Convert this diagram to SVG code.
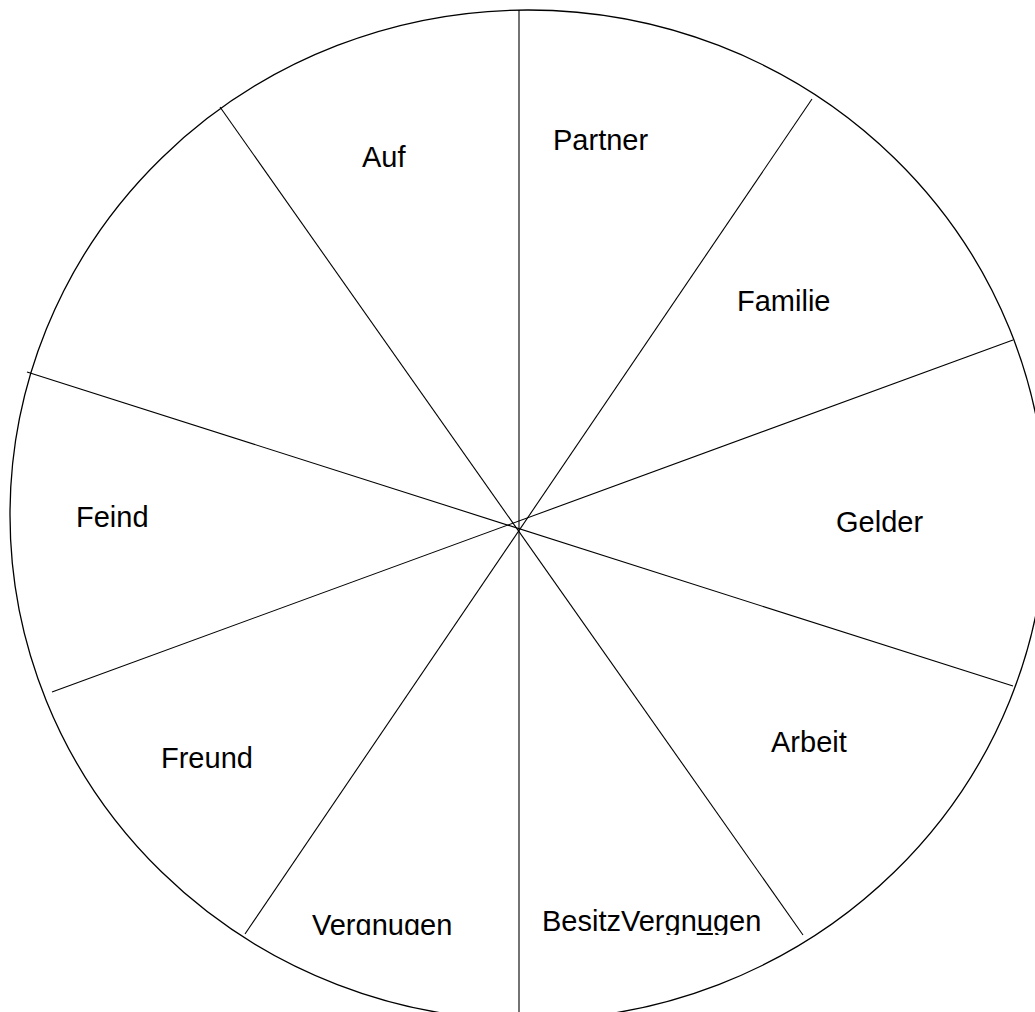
<svg xmlns="http://www.w3.org/2000/svg" width="1035" height="1012" viewBox="0 0 1035 1012">
<style>
.rim{fill:none;stroke:#000;stroke-width:1.3}
.spoke{stroke:#000;stroke-width:1.1;fill:none}
.lbl{font-family:"Liberation Sans",Arial,sans-serif;font-size:29px;fill:#000}
.ul{text-decoration:underline}
</style>
<defs>
<clipPath id="bottomClip"><rect x="0" y="0" width="1035" height="935"/></clipPath>
</defs>
<rect x="0" y="0" width="1035" height="1012" fill="#fff"/>
<g id="wheel"><ellipse class="rim" cx="528" cy="515" rx="518" ry="505"/></g>
<g id="connectors">
<line class="spoke" x1="519" y1="10" x2="519" y2="1012"/>
<line class="spoke" x1="220" y1="107" x2="803" y2="935"/>
<line class="spoke" x1="812" y1="99" x2="245" y2="934"/>
<line class="spoke" x1="27" y1="372" x2="1013" y2="686"/>
<line class="spoke" x1="52" y1="692" x2="1013" y2="340"/>
</g>
<g id="auf"><text class="lbl" x="362" y="167">Auf</text></g>
<g id="partner"><text class="lbl" x="553" y="150">Partner</text></g>
<g id="familie"><text class="lbl" x="737" y="311">Familie</text></g>
<g id="gelder"><text class="lbl" x="836" y="532">Gelder</text></g>
<g id="arbeit"><text class="lbl" x="771" y="752">Arbeit</text></g>
<g id="besitz"><text class="lbl" x="542" y="931" clip-path="url(#bottomClip)">BesitzVergn<tspan class="ul">u</tspan>gen</text></g>
<g id="vergnugen"><text class="lbl" x="312" y="935" clip-path="url(#bottomClip)">Vergnugen</text></g>
<g id="freund"><text class="lbl" x="161" y="768">Freund</text></g>
<g id="feind"><text class="lbl" x="76" y="527">Feind</text></g>
</svg>
